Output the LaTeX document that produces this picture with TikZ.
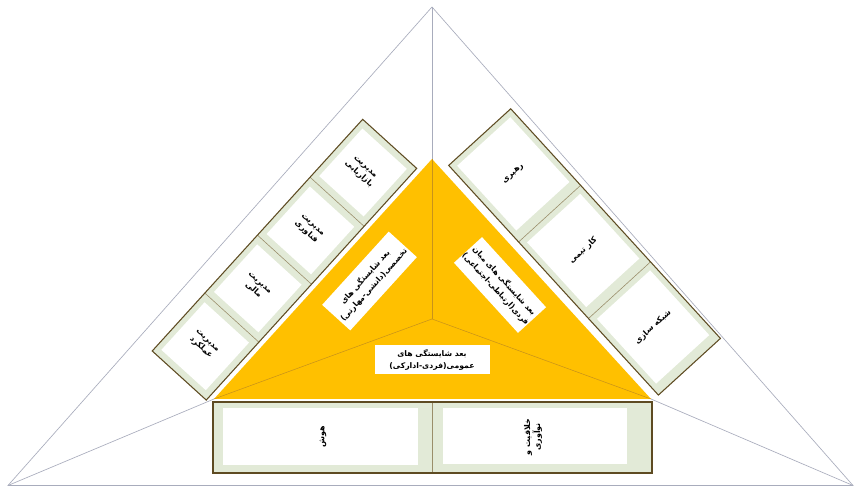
\documentclass[tikz,border=0pt]{standalone}
\usepackage{fontspec}
\TeXXeTstate=1
\newfontfamily\fa[Script=Arabic]{DejaVu Sans}
\newcommand\rtl[1]{\beginR#1\endR}
\definecolor{gold}{HTML}{FFC000}
\definecolor{cellgreen}{HTML}{E2EAD7}
\definecolor{stripedge}{HTML}{5E4B22}
\definecolor{divline}{HTML}{9A8E6A}
\definecolor{guideline}{HTML}{A8ACBC}
\definecolor{seamline}{HTML}{C8921A}
\tikzset{
  guide/.style={draw=guideline, line width=0.55pt},
  seam/.style={draw=seamline, line width=0.45pt},
  stripbox/.style={draw=stripedge, line width=0.9pt},
  cellbox/.style={fill=cellgreen},
  whitebox/.style={fill=white},
  divider/.style={draw=divline, line width=0.5pt},
  celltext/.style={font=\fa\bfseries\fontsize{6.8}{8.5}\selectfont, align=center, inner sep=0pt},
  dimlabel/.style={fill=white, font=\fa\bfseries\fontsize{6.6}{10}\selectfont, align=center, inner sep=0pt}
}
\begin{document}
\begin{tikzpicture}[x=0.03cm,y=0.03cm]
\useasboundingbox (0,0) rectangle (855,487);
\fill[white] (0,0) rectangle (855,487);
% outer triangle
\coordinate (OT) at (432,480);
\coordinate (OL) at (8,1.5);
\coordinate (OR) at (853,1.5);
% inner triangle
\coordinate (IT) at (432,328);
\coordinate (IL) at (214,88);
\coordinate (IR) at (651,88);
\coordinate (CC) at (432,168);
\draw[guide] (OL) -- (OT) -- (OR) -- cycle;
\draw[guide] (OT) -- (IT);
\draw[guide] (OL) -- (IL);
\draw[guide] (OR) -- (IR);
\fill[gold] (IL) -- (IT) -- (IR) -- cycle;
\draw[seam] (CC) -- (IT);
\draw[seam] (CC) -- (IL);
\draw[seam] (CC) -- (IR);

% left strip
\begin{scope}[shift={(214,88)}, rotate=47.75]
  \fill[cellbox] (-6,5) rectangle (307,78);
  \foreach \i/\t in {0/{\rtl{مدیریت}\\\rtl{عملکرد}},1/{\rtl{مدیریت}\\\rtl{مالی}},2/{\rtl{مدیریت}\\\rtl{فناوری}},3/{\rtl{مدیریت}\\\rtl{بازاریابی}}}{
    \pgfmathsetmacro\ua{-6+78.25*\i}
    \pgfmathsetmacro\ub{-6+78.25*(\i+1)}
    \fill[whitebox] (\ua+7,12) rectangle (\ub-7,72);
    \node[celltext, rotate=-42.25] (L\i) at ({(\ua+\ub)/2},44) {\t};
  }
  \foreach \i in {1,2,3}{
    \pgfmathsetmacro\ua{-6+78.25*\i}
    \draw[divider] (\ua,5) -- (\ua,78);
  }
  \draw[stripbox] (-6,5) rectangle (307,78);
\end{scope}

% right strip
\begin{scope}[shift={(432,328)}, rotate=-47.6]
  \fill[cellbox] (16,8) rectangle (327,92);
  \foreach \i/\t in {0/{\rtl{رهبری}},1/{\rtl{کار تیمی}},2/{\rtl{شبکه سازی}}}{
    \pgfmathsetmacro\ua{16+103.67*\i}
    \pgfmathsetmacro\ub{16+103.67*(\i+1)}
    \fill[whitebox] (\ua+6,14) rectangle (\ub-10,86);
    \node[celltext, rotate=42.4] (R\i) at ({(\ua+\ub)/2-2},50) {\t};
  }
  \foreach \i in {1,2}{
    \pgfmathsetmacro\ua{16+103.67*\i}
    \draw[divider] (\ua,8) -- (\ua,92);
  }
  \draw[stripbox] (16,8) rectangle (327,92);
\end{scope}

% bottom strip
\fill[cellbox] (213,14) rectangle (652,85);
\fill[whitebox] (223,22) rectangle (418,79);
\fill[whitebox] (443,23) rectangle (627,79);
\draw[divider] (432,14) -- (432,85);
\draw[stripbox] (213,14) rectangle (652,85);
\node[celltext, rotate=90] (B0) at (323,50) {\rtl{هوش}};
\node[celltext, rotate=90] (B1) at (533,50) {\rtl{خلاقیت و}\\\rtl{نوآوری}};

% dimension labels
\node[dimlabel, rotate=47.75, minimum width=99*0.03cm, minimum height=38*0.03cm] (DL) at (369.5,206)
  {\rtl{بعد شایستگی های}\\\rtl{تخصصی(دانشی-مهارتی)}};
\node[dimlabel, rotate=-47.6, minimum width=94*0.03cm, minimum height=38*0.03cm] (DR) at (500,202)
  {\rtl{بعد شایستگی های میان}\\\rtl{فردی(ارتباطی-اجتماعی)}};
\node[dimlabel, minimum width=115*0.03cm, minimum height=29*0.03cm] (DB) at (432,127)
  {\rtl{بعد شایستگی های}\\\rtl{عمومی(فردی-ادارکی)}};
\end{tikzpicture}
\end{document}
